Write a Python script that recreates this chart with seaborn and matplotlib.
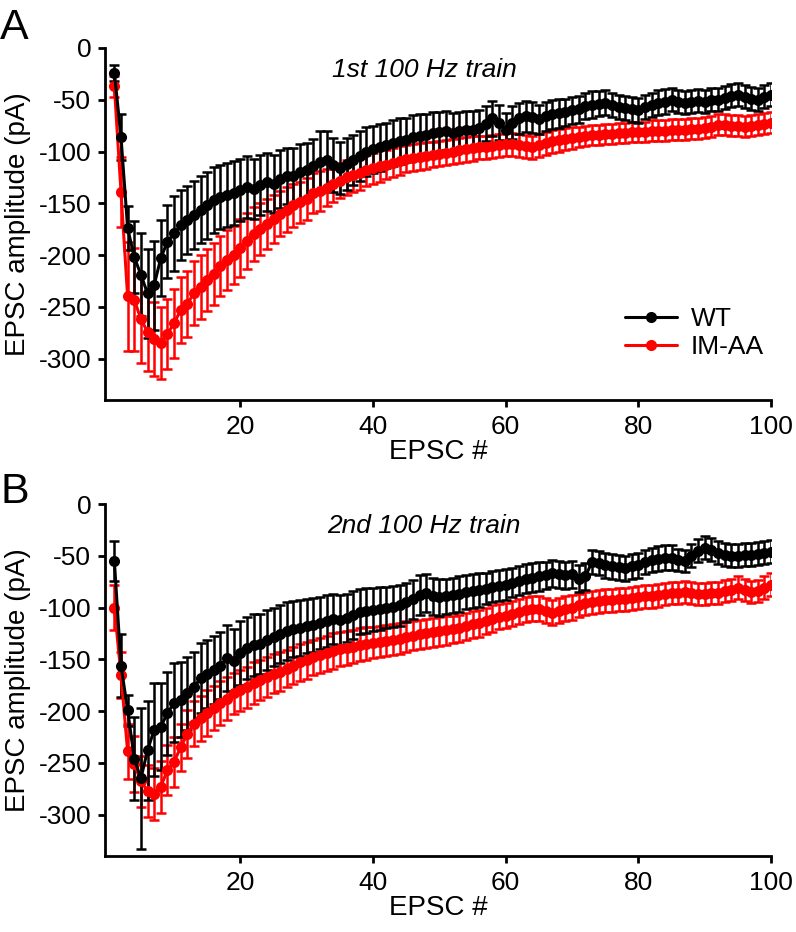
import matplotlib
matplotlib.use('Agg')
import matplotlib.pyplot as plt
import numpy as np
import pandas as pd
import seaborn as sns

# valores (pA), EPSC 1..100

epsc = list(range(1, 101))

wt_1 = [-24, -86, -174, -202, -219, -237, -229, -203, -187, -179,
        -171, -166, -161, -156, -152, -147, -144, -142, -140, -137,
        -134, -136, -132, -129, -131, -127, -124, -124, -120, -118,
        -114, -110, -108, -113, -116, -112, -108, -104, -100, -98,
        -96, -94, -92, -90, -89, -86, -85, -84, -82, -81,
        -80, -82, -80, -79, -79, -77, -73, -68, -72, -79,
        -72, -68, -66, -67, -69, -66, -64, -63, -62, -60,
        -59, -56, -55, -54, -53, -55, -57, -58, -59, -60,
        -57, -55, -53, -52, -50, -52, -53, -52, -51, -52,
        -50, -50, -48, -46, -45, -47, -49, -50, -47, -45]
wt_1_err = [8, 22, 21, 35, 40, 43, 43, 37, 35, 36,
            34, 33, 33, 32, 32, 32, 31, 31, 31, 30,
            30, 29, 29, 28, 28, 28, 27, 27, 27, 26,
            26, 30, 28, 26, 25, 25, 24, 24, 24, 23,
            23, 22, 22, 22, 21, 21, 21, 20, 20, 19,
            19, 19, 18, 18, 18, 17, 17, 17, 17, 16,
            16, 15, 15, 15, 14, 14, 14, 14, 13, 13,
            13, 13, 13, 12, 12, 12, 12, 12, 12, 12,
            12, 12, 12, 12, 11, 11, 11, 11, 11, 11,
            11, 11, 11, 11, 11, 11, 11, 11, 11, 11]

imaa_1 = [-37, -139, -240, -243, -262, -274, -281, -285, -276, -266,
          -253, -247, -237, -231, -224, -218, -211, -205, -200, -193,
          -186, -180, -175, -170, -165, -160, -156, -152, -149, -146,
          -140, -138, -135, -131, -128, -125, -123, -121, -118, -116,
          -114, -113, -111, -109, -107, -106, -105, -104, -103, -102,
          -101, -100, -99, -98, -97, -96, -96, -95, -94, -93,
          -93, -94, -95, -96, -94, -92, -90, -89, -88, -87,
          -86, -85, -84, -84, -83, -83, -82, -82, -81, -81,
          -81, -80, -80, -80, -79, -79, -79, -78, -78, -77,
          -76, -74, -74, -75, -75, -76, -75, -74, -73, -72]
imaa_1_err = [10, 34, 53, 50, 42, 38, 36, 35, 34, 33,
              32, 32, 31, 31, 30, 30, 29, 29, 28, 28,
              27, 26, 25, 24, 23, 22, 22, 21, 20, 20,
              19, 19, 18, 18, 17, 17, 16, 16, 15, 15,
              15, 14, 14, 14, 13, 13, 13, 13, 12, 12,
              12, 12, 12, 12, 12, 11, 11, 11, 11, 11,
              11, 11, 11, 11, 11, 11, 11, 11, 11, 11,
              10, 10, 10, 10, 10, 10, 10, 10, 10, 10,
              10, 10, 10, 10, 10, 10, 10, 10, 10, 10,
              10, 10, 10, 10, 10, 10, 10, 10, 10, 10]

wt_2 = [-55, -156, -199, -246, -265, -238, -218, -215, -202, -192,
        -189, -183, -177, -168, -164, -160, -156, -149, -152, -144,
        -139, -136, -135, -131, -128, -126, -123, -121, -120, -118,
        -117, -115, -113, -111, -112, -110, -107, -104, -103, -102,
        -101, -100, -99, -98, -95, -92, -88, -86, -89, -90,
        -89, -88, -87, -85, -84, -83, -82, -80, -79, -78,
        -76, -74, -72, -71, -70, -69, -67, -68, -69, -68,
        -72, -70, -56, -57, -59, -60, -61, -62, -60, -59,
        -56, -54, -53, -52, -52, -54, -55, -50, -45, -42,
        -44, -47, -49, -50, -50, -49, -49, -48, -47, -46]
wt_2_err = [19, 30, 15, 40, 68, 48, 45, 42, 40, 38,
            36, 35, 34, 34, 33, 33, 32, 32, 31, 31,
            30, 30, 29, 29, 28, 28, 28, 27, 27, 26,
            26, 25, 25, 24, 24, 23, 23, 22, 22, 21,
            21, 20, 20, 20, 19, 19, 19, 18, 18, 18,
            17, 17, 17, 16, 16, 16, 15, 15, 15, 15,
            14, 14, 14, 14, 14, 13, 13, 13, 13, 13,
            13, 13, 12, 12, 12, 12, 12, 12, 12, 12,
            12, 12, 12, 12, 12, 11, 11, 11, 11, 11,
            11, 11, 11, 11, 11, 11, 11, 11, 11, 11]

imaa_2 = [-100, -165, -239, -251, -268, -277, -280, -273, -257, -249,
          -235, -222, -212, -207, -202, -197, -192, -188, -183, -180,
          -177, -173, -170, -167, -164, -162, -159, -156, -153, -151,
          -148, -146, -144, -142, -140, -139, -138, -136, -135, -134,
          -133, -132, -131, -130, -128, -127, -126, -125, -124, -123,
          -122, -121, -120, -118, -116, -115, -113, -111, -109, -108,
          -106, -104, -102, -101, -101, -103, -105, -103, -101, -100,
          -98, -96, -95, -94, -93, -93, -92, -92, -91, -90,
          -89, -89, -88, -87, -86, -86, -85, -86, -87, -87,
          -86, -86, -84, -83, -81, -83, -85, -84, -81, -78]
imaa_2_err = [22, 22, 27, 27, 25, 25, 25, 25, 24, 24,
              23, 23, 22, 22, 22, 21, 21, 21, 20, 20,
              20, 20, 19, 19, 19, 19, 18, 18, 18, 18,
              17, 17, 17, 17, 16, 16, 16, 16, 16, 15,
              15, 15, 15, 15, 15, 14, 14, 14, 14, 14,
              14, 13, 13, 13, 13, 13, 13, 13, 12, 12,
              12, 12, 12, 12, 12, 12, 12, 12, 12, 12,
              11, 11, 11, 11, 11, 11, 11, 11, 11, 11,
              11, 11, 11, 11, 11, 11, 11, 11, 11, 11,
              11, 11, 11, 11, 11, 11, 11, 11, 11, 11]

paineis = [
    ('A', '1st 100 Hz train', wt_1, wt_1_err, imaa_1, imaa_1_err),
    ('B', '2nd 100 Hz train', wt_2, wt_2_err, imaa_2, imaa_2_err),
]

cores = {'WT': 'black', 'IM-AA': '#ff0000'}

sns.set_style('ticks')
plt.rcParams['font.family'] = ['Liberation Sans', 'DejaVu Sans']
plt.rcParams['axes.unicode_minus'] = False
plt.rcParams['text.color'] = 'black'
plt.rcParams['axes.labelcolor'] = 'black'
plt.rcParams['axes.edgecolor'] = 'black'
plt.rcParams['xtick.color'] = 'black'
plt.rcParams['ytick.color'] = 'black'
plt.rcParams['axes.linewidth'] = 2
plt.rcParams['xtick.major.width'] = 2
plt.rcParams['ytick.major.width'] = 2
plt.rcParams['xtick.major.size'] = 5
plt.rcParams['ytick.major.size'] = 5

fig = plt.figure(figsize=(7.96, 9.32), dpi=100)
posicoes = [[0.132, 0.5708, 0.8367, 0.3777], [0.132, 0.0815, 0.8367, 0.3777]]
pos_letras = [1 - 8 / 932, 1 - 472 / 932]

for i, (letra, titulo, wt, wt_err, im, im_err) in enumerate(paineis):
    ax = fig.add_axes(posicoes[i])
    df = pd.DataFrame({
        'epsc': epsc * 2,
        'amp': im + wt,
        'genotipo': ['IM-AA'] * 100 + ['WT'] * 100,
    })
    # vermelho primeiro, preto por cima
    for g, medias, erros in [('IM-AA', im, im_err), ('WT', wt, wt_err)]:
        ax.errorbar(epsc, medias, yerr=erros, fmt='none', ecolor=cores[g],
                    elinewidth=1.8, capsize=3.8, capthick=1.8, zorder=2)
        sns.lineplot(data=df[df['genotipo'] == g], x='epsc', y='amp', color=cores[g],
                     marker='o', markersize=8, markeredgewidth=0, linewidth=2.2,
                     label=g, ax=ax, zorder=3)

    ax.set_xlim(-0.4, 100)
    ax.set_ylim(-340, 0)
    ax.set_xticks([20, 40, 60, 80, 100])
    ax.set_yticks([0, -50, -100, -150, -200, -250, -300])
    ax.tick_params(labelsize=19)
    ax.tick_params(axis='y', pad=5)
    ax.tick_params(axis='x', pad=6)
    ax.set_xlabel('EPSC #', fontsize=20, labelpad=0)
    ax.set_ylabel('EPSC amplitude (pA)', fontsize=20, labelpad=5)
    sns.despine(ax=ax)
    ax.text(0.479, 0.9375, titulo, transform=ax.transAxes, fontsize=19,
            style='italic', ha='center', va='center')

    if i == 0:
        handles, labels = ax.get_legend_handles_labels()
        ordem = [labels.index('WT'), labels.index('IM-AA')]
        ax.legend([handles[k] for k in ordem], [labels[k] for k in ordem],
                  loc='center left', bbox_to_anchor=(0.78, 0.19), frameon=False,
                  fontsize=19, handlelength=2.0, handletextpad=0.5, labelspacing=0.15,
                  borderaxespad=0, borderpad=0)
    else:
        ax.get_legend().remove()

    fig.text(0.0, pos_letras[i], letra, fontsize=31, va='top', ha='left')

fig.savefig('out.png', dpi=100)
